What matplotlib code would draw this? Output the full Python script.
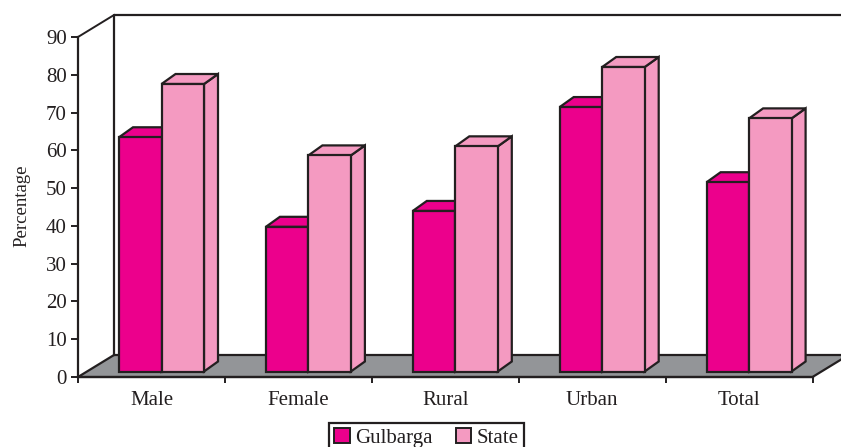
import matplotlib
matplotlib.use("Agg")
import matplotlib.pyplot as plt
from matplotlib.patches import Patch, Polygon

categories = ["Male", "Female", "Rural", "Urban", "Total"]
gulbarga = [62.0, 38.3, 42.5, 70.0, 50.1]
state = [76.1, 57.2, 59.6, 80.6, 67.0]
y_ticks = [0, 10, 20, 30, 40, 50, 60, 70, 80, 90]

W, H = 841, 447
X0, X1, Y0, Y90 = 78, 812.5, 377, 37
INK = "#231F20"
PINK = "#EC008C"
LIGHT = "#F49AC1"
FLOOR = "#939598"

plt.rcParams["font.family"] = ["Liberation Serif", "DejaVu Serif"]
fig = plt.figure(figsize=(W / 100, H / 100), dpi=100)
ax = fig.add_axes([X0 / W, 1 - Y0 / H, (X1 - X0) / W, (Y0 - Y90) / H])
ax.set_xlim(0, 5)
ax.set_ylim(0, 90)
ax.patch.set_visible(False)

# Pixel distances expressed in data units
px = 5 / (X1 - X0)
py = 90 / (Y0 - Y90)
wall_dx, wall_dy = 36 * px, 22 * py
bar_dx, bar_dy = 14 * px, 10 * py
bar_w = 42.5 * px
bar_left = 41 * px
base = 5.5 * py

# Floor and back wall of the 3D box
ax.add_patch(Polygon([(0, 0), (5, 0), (5 + wall_dx, wall_dy), (wall_dx, wall_dy)],
                     closed=True, fc=FLOOR, ec=INK, lw=1.6, clip_on=False, zorder=1))
ax.plot([wall_dx, wall_dx, 5 + wall_dx], [wall_dy, 90 + wall_dy, 90 + wall_dy],
        color=INK, lw=1.6, clip_on=False, zorder=1)
ax.plot([0, wall_dx], [90, 90 + wall_dy], color=INK, lw=1.4, clip_on=False, zorder=1)


def box(x, value, color, z):
    """One bar: front face through ax.bar, side and top as depth polygons."""
    top = base + value
    edge = dict(fc=color, ec=INK, lw=1.6, clip_on=False, zorder=z, joinstyle="miter")
    ax.add_patch(Polygon([(x + bar_w, base), (x + bar_w + bar_dx, base + bar_dy),
                          (x + bar_w + bar_dx, top + bar_dy), (x + bar_w, top)], **edge))
    ax.add_patch(Polygon([(x, top), (x + bar_w, top),
                          (x + bar_w + bar_dx, top + bar_dy), (x + bar_dx, top + bar_dy)], **edge))
    ax.bar(x, value, width=bar_w, bottom=base, align="edge", color=color,
           edgecolor=INK, linewidth=1.6, clip_on=False, zorder=z)


for i in range(len(categories)):
    box(i + bar_left, gulbarga[i], PINK, 3)
    box(i + bar_left + bar_w, state[i], LIGHT, 4)

for side in ("top", "right"):
    ax.spines[side].set_visible(False)
for side in ("left", "bottom"):
    ax.spines[side].set_color(INK)
    ax.spines[side].set_linewidth(1.6)
    ax.spines[side].set_zorder(2)

ax.set_yticks(y_ticks)
ax.tick_params(axis="y", length=5, width=1.4, color=INK, labelcolor=INK,
               labelsize=15, pad=3)
ax.set_xticks(range(len(categories) + 1))
ax.set_xticklabels([])
ax.tick_params(axis="x", which="major", length=4, width=1.4, color=INK)
ax.set_xticks([i + 0.5 for i in range(len(categories))], minor=True)
ax.set_xticklabels(categories, minor=True)
ax.tick_params(axis="x", which="minor", length=0, labelcolor=INK, labelsize=15, pad=10)

fig.text(22 / W, 1 - 206 / H, "Percentage", rotation=90, ha="center", va="center",
         fontsize=13.5, color=INK)

handles = [Patch(fc=PINK, ec=INK, lw=1.4, label="Gulbarga"),
           Patch(fc=LIGHT, ec=INK, lw=1.4, label="State")]
leg = fig.legend(handles=handles, loc="upper left",
                 bbox_to_anchor=(329 / W, 1 - 423 / H), ncol=2, frameon=True,
                 fontsize=15, labelcolor=INK, fancybox=False, edgecolor=INK,
                 framealpha=1, handlelength=0.75, handleheight=0.7,
                 handletextpad=0.25, columnspacing=1.1, borderpad=0.26,
                 borderaxespad=0)
leg.get_frame().set_linewidth(1.6)

fig.savefig("out.png", dpi=100)
